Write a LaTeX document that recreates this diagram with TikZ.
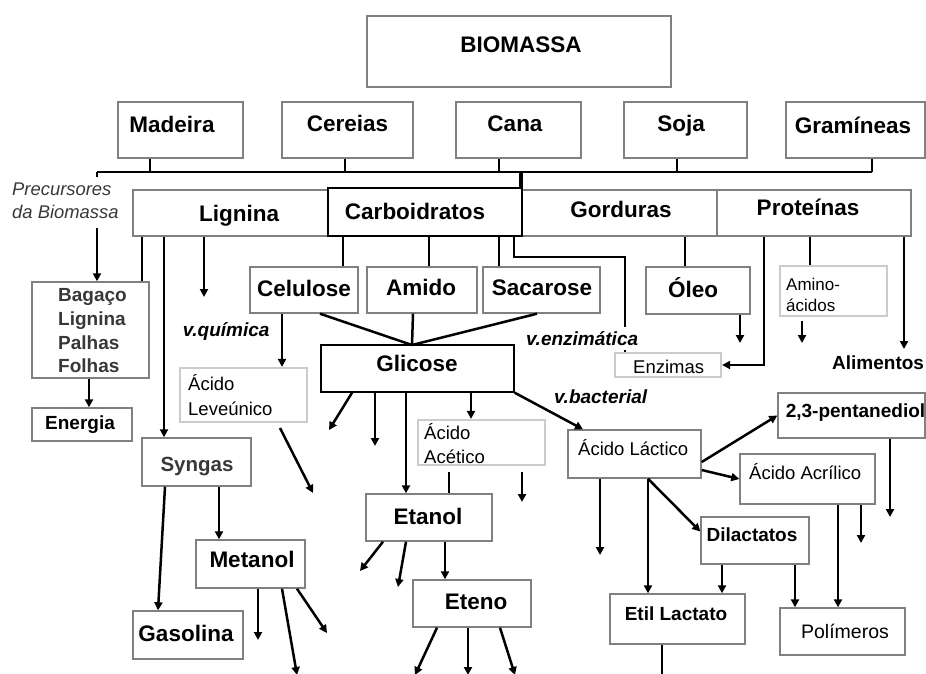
\documentclass[tikz,border=0pt]{standalone}
\usepackage{fontspec}
\setmainfont{Liberation Sans}
\usetikzlibrary{arrows.meta,fit}

\definecolor{edge}{gray}{0.5}
\definecolor{pale}{gray}{0.8}
\definecolor{ink}{gray}{0.22}

% a rectangle spanning two corner points, named #2
\newcommand\blk[3][box]{\node[#1,fit={#3}] (#2) {};}

\tikzset{
  box/.style={draw=edge, line width=1.4pt, inner sep=0pt},
  keybox/.style={draw=black, line width=1.5pt, inner sep=0pt},
  palebox/.style={draw=pale, line width=2.2pt, inner sep=0pt},
  link/.style={draw=black, line width=2.5pt},
  flow/.style={link, -{Triangle[length=8pt,width=8pt]}},
  lblA/.style={font=\bfseries\fontsize{22.5}{27}\selectfont, anchor=base, inner sep=0pt},
  lblB/.style={font=\bfseries\fontsize{19}{23}\selectfont, anchor=base, inner sep=0pt},
  lblR/.style={font=\fontsize{18.5}{22}\selectfont, anchor=base west, inner sep=0pt},
  lblV/.style={font=\bfseries\itshape\fontsize{19}{23}\selectfont, anchor=base west, inner sep=0pt},
  lblP/.style={font=\itshape\fontsize{18.4}{23}\selectfont, anchor=base west, inner sep=0pt, text=ink},
}

\begin{document}
\begin{tikzpicture}[x=1pt,y=-1pt]
\useasboundingbox (0,0) rectangle (926,673);

% ---------- boxes ----------
\blk{bio}{(367,16)(671,87)}
\blk{mad}{(118,102)(243,158)}
\blk{cer}{(282,102)(413,158)}
\blk{can}{(456,102)(581,158)}
\blk{soj}{(624,102)(747,158)}
\blk{gra}{(786,102)(925,158)}

\blk{lig}{(133,190)(328,236)}
\blk{gord}{(522,190)(717,236)}
\blk{prot}{(717,190)(911,236)}
\blk[keybox]{carb}{(328,188)(522,236)}

\blk{cel}{(250,267)(358,313)}
\blk{ami}{(367,267)(477,313)}
\blk{sac}{(483,267)(600,313)}
\blk{ole}{(646,267)(750,314)}
\blk[palebox]{amn}{(780,266)(887,316)}
\blk[palebox]{enz}{(615,353)(721,377)}

\blk{bag}{(32,282)(149,378)}
\blk{ene}{(32,408)(132,441)}
\blk[palebox]{lev}{(180,368)(307,422)}
\blk[keybox]{gli}{(321,345)(514,392)}
\blk[palebox]{ace}{(418,420)(545,465)}
\blk{lac}{(568,430)(701,478)}
\blk{pen}{(778,393)(925,438)}
\blk{acr}{(740,454)(875,504)}

\blk{syn}{(142,438)(251,486)}
\blk{met}{(196,540)(305,588)}
\blk{gas}{(133,611)(243,659)}
\blk{eta}{(366,494)(492,541)}
\blk{ete}{(413,580)(531,627)}
\blk{dil}{(701,517)(809,564)}
\blk{eti}{(610,594)(745,644)}
\blk{pol}{(780,608)(905,655)}

% ---------- free ends ----------
\coordinate (busL) at (97,172);
\coordinate (busR) at (872,172);
\coordinate (preA) at (97,177);
\coordinate (preB) at (97,228);
\coordinate (ligC) at (204,297);
\coordinate (enzA) at (625,327);
\coordinate (enzB) at (625,350);
\coordinate (oleC) at (740,343);
\coordinate (amnC) at (802,343);
\coordinate (aliC) at (904,349);
\coordinate (gliT) at (412,345);
\coordinate (levA) at (280,428);
\coordinate (levB) at (313,493);
\coordinate (g1) at (329,430);
\coordinate (g2) at (375,446);
\coordinate (aceA) at (449,472);
\coordinate (aceB) at (522,472);
\coordinate (aceC) at (522,502);
\coordinate (e1) at (360,571);
\coordinate (e2) at (398,587);
\coordinate (t1) at (415,675);
\coordinate (t2) at (468,675);
\coordinate (t3) at (515,675);
\coordinate (m1) at (258,640);
\coordinate (m2) at (297,675);
\coordinate (m3) at (327,633);
\coordinate (l1) at (600,555);
\coordinate (p1) at (890,517);
\coordinate (a1) at (861,543);
\coordinate (x1) at (662,675);

% ---------- sources to precursors ----------
\draw[link] (150,0 |- mad.south) -- (150,0 |- busL);
\draw[link] (345,0 |- cer.south) -- (345,0 |- busL);
\draw[link] (499,0 |- can.south) -- (499,0 |- busL);
\draw[link] (677,0 |- soj.south) -- (677,0 |- busL);
\draw[link] (872,0 |- gra.south) -- (busR);
\draw[link] (busL) -- (busR);
\draw[link, line width=3.2pt] (521,0 |- busL) -- (521,0 |- carb.north);
\draw[link] (busL) -- (preA);
\draw[flow] (preB) -- (97,0 |- bag.north);

% ---------- lignina ----------
\draw[link] (142,0 |- lig.south) -- (142,0 |- bag.north);
\draw[flow] (164,0 |- lig.south) -- (164,0 |- syn.north);
\draw[flow] (204,0 |- lig.south) -- (ligC);

% ---------- carboidratos ----------
\draw[link] (343,0 |- carb.south) -- (343,0 |- cel.north);
\draw[link] (429,0 |- carb.south) -- (429,0 |- ami.north);
\draw[link] (499,0 |- carb.south) -- (499,0 |- sac.north);
\draw[link] (514,0 |- carb.south) -- (514,257) -- (625,257) -- (enzA);
\draw[link] (enzB) -- (625,0 |- enz.north);

% ---------- gorduras / proteinas ----------
\draw[link] (685,0 |- gord.south) -- (685,0 |- ole.north);
\draw[flow] (740,0 |- ole.south) -- (oleC);
\draw[flow] (764,0 |- prot.south) |- (enz.east);
\draw[link] (810,0 |- prot.south) -- (810,0 |- amn.north);
\draw[flow, shorten <=4pt] (802,0 |- amn.south) -- (amnC);
\draw[flow] (904,0 |- prot.south) -- (aliC);

% ---------- to glicose ----------
\draw[link] (320,0 |- cel.south) -- (gliT);
\draw[link] (413,0 |- ami.south) -- (gliT);
\draw[link] (537,0 |- sac.south) -- (gliT);
\draw[flow] (282,0 |- cel.south) -- (282,0 |- lev.north);
\draw[flow] (levA) -- (levB);

% ---------- from glicose ----------
\draw[flow] (352,0 |- gli.south) -- (g1);
\draw[flow] (375,0 |- gli.south) -- (g2);
\draw[flow] (406,0 |- gli.south) -- (406,0 |- eta.north);
\draw[flow] (471,0 |- gli.south) -- (471,0 |- ace.north);
\draw[flow] (gli.south east) -- (583,0 |- lac.north);
\draw[link] (aceA) -- (449,0 |- eta.north);
\draw[flow] (aceB) -- (aceC);

% ---------- etanol / eteno ----------
\draw[flow] (383,0 |- eta.south) -- (e1);
\draw[flow] (406,0 |- eta.south) -- (e2);
\draw[flow] (445,0 |- eta.south) -- (445,0 |- ete.north);
\draw[flow] (437,0 |- ete.south) -- (t1);
\draw[flow] (468,0 |- ete.south) -- (t2);
\draw[flow] (500,0 |- ete.south) -- (t3);

% ---------- biomassa residual / syngas ----------
\draw[flow] (89,0 |- bag.south) -- (89,0 |- ene.north);
\draw[flow] (165,0 |- syn.south) -- (158,0 |- gas.north);
\draw[flow] (219,0 |- syn.south) -- (219,0 |- met.north);
\draw[flow] (258,0 |- met.south) -- (m1);
\draw[flow] (282,0 |- met.south) -- (m2);
\draw[flow] (297,0 |- met.south) -- (m3);

% ---------- acido lactico ----------
\draw[flow] ([yshift=-8pt]lac.east) -- (pen.west);
\draw[flow] ([yshift=-16pt]lac.east) -- (acr.west);
\draw[flow] (600,0 |- lac.south) -- (l1);
\draw[flow] (648,0 |- lac.south) -- (648,0 |- eti.north);
\draw[flow] (648,0 |- lac.south) -- ([yshift=9pt]dil.west);
\draw[flow] (890,0 |- pen.south) -- (p1);
\draw[flow] (838,0 |- acr.south) -- (838,0 |- pol.north);
\draw[flow] (861,0 |- acr.south) -- (a1);
\draw[flow] (722,0 |- dil.south) -- (722,0 |- eti.north);
\draw[flow] (795,0 |- dil.south) -- (795,0 |- pol.north);
\draw[link] (662,0 |- eti.south) -- (x1);

% ---------- labels ----------
\node[lblA] (bio-t) at (521,52) {BIOMASSA};
\node[lblA] (mad-t) at (172,132.5) {Madeira};
\node[lblA] (cer-t) at (347.5,131.7) {Cereias};
\node[lblA] (can-t) at (515,131.7) {Cana};
\node[lblA] (soj-t) at (681,131.7) {Soja};
\node[lblA] (gra-t) at (853,133) {Gramíneas};

\node[lblA] (lig-t) at (239,221.7) {Lignina};
\node[lblA] (carb-t) at (415,219) {Carboidratos};
\node[lblA] (gord-t) at (621,217.7) {Gorduras};
\node[lblA] (prot-t) at (808,215) {Proteínas};

\node[lblA] (cel-t) at (304,296.7) {Celulose};
\node[lblA] (ami-t) at (421,295.7) {Amido};
\node[lblA] (sac-t) at (542,295) {Sacarose};
\node[lblA] (ole-t) at (693,297) {Óleo};
\node[lblA] (gli-t) at (417,371.7) {Glicose};
\node[lblA] (met-t) at (252,567.7) {Metanol};
\node[lblA] (gas-t) at (186,641.7) {Gasolina};
\node[lblA] (eta-t) at (428,524.3) {Etanol};
\node[lblA] (ete-t) at (476,609.3) {Eteno};

\node[lblB] (ene-t) at (80,429) {Energia};
\node[lblB, text=ink, font=\bfseries\fontsize{20.5}{24}\selectfont] (syn-t) at (197,471) {Syngas};
\node[lblB] (dil-t) at (752,541.7) {Dilactatos};
\node[lblB] (eti-t) at (676,620) {Etil Lactato};
\node[lblB] (pen-t) at (855.5,417.7) {2,3-pentanediol};
\node[lblB, anchor=base west] (alim) at (832,369.3) {Alimentos};

\node[lblB, anchor=base west, text=ink] (bag-1) at (58,301.7) {Bagaço};
\node[lblB, anchor=base west, text=ink] (bag-2) at (58,325) {Lignina};
\node[lblB, anchor=base west, text=ink] (bag-3) at (58,349) {Palhas};
\node[lblB, anchor=base west, text=ink] (bag-4) at (58,372.3) {Folhas};

\node[lblR] (lev-1) at (188,390.7) {Ácido};
\node[lblR] (lev-2) at (188,415) {Leveúnico};
\node[lblR] (ace-1) at (424,439) {Ácido};
\node[lblR] (ace-2) at (424,463.3) {Acético};
\node[lblR] (lac-t) at (578,455) {Ácido Láctico};
\node[lblR] (acr-t) at (749,479.3) {Ácido Acrílico};
\node[lblR] (enz-t) at (633,373.3) {Enzimas};
\node[lblR, anchor=base, font=\fontsize{19.5}{23}\selectfont] (pol-t) at (845,638.3) {Polímeros};
\node[lblR, font=\fontsize{17}{20}\selectfont] (amn-1) at (786,290) {Amino-};
\node[lblR, font=\fontsize{17}{20}\selectfont] (amn-2) at (786,311.7) {ácidos};

\node[lblV] (vq) at (182.7,336.7) {v.química};
\node[lblV] (ve) at (526,345) {v.enzimática};
\node[lblV] (vb) at (554,403.3) {v.bacterial};

\node[lblP] (pre-1) at (12,195) {Precursores};
\node[lblP] (pre-2) at (12,218.3) {da Biomassa};
\end{tikzpicture}
\end{document}
